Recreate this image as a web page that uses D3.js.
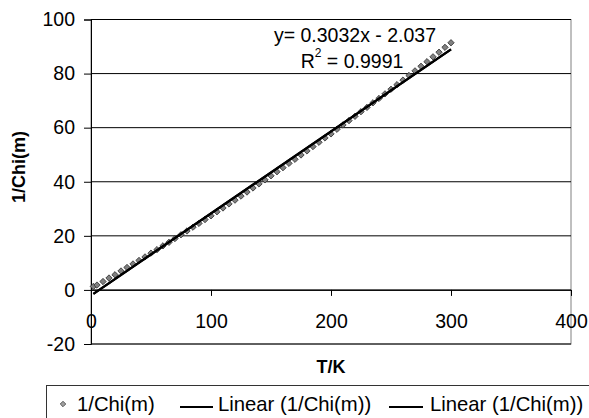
<!DOCTYPE html>
<html>
<head>
<meta charset="utf-8">
<script src="https://cdn.jsdelivr.net/npm/d3@7"></script>
<style>
  body { margin: 0; background: #fff; }
  svg { display: block; font-family: "Liberation Sans", Arial, sans-serif; }
</style>
</head>
<body>
<svg id="chart" width="589" height="418"></svg>
<script>
// temperature (K) and 1/Chi(m)
const temps = [2, 5, 10, 15, 20, 25, 30, 35, 40, 45, 50, 55, 60, 65, 70, 75, 80, 85, 90, 95,
	100, 105, 110, 115, 120, 125, 130, 135, 140, 145, 150, 155, 160, 165, 170, 175, 180, 185, 190, 195,
	200, 205, 210, 215, 220, 225, 230, 235, 240, 245, 250, 255, 260, 265, 270, 275, 280, 285, 290, 295, 300];
const invChi = [1.3, 1.8, 3.1, 4.4, 5.6, 7.0, 8.3, 9.6, 10.9, 12.2, 13.6, 14.9, 16.3, 17.6, 19.0, 20.4, 21.8, 23.2, 24.6, 26.0,
	27.4, 28.9, 30.3, 31.8, 33.2, 34.7, 36.2, 37.7, 39.2, 40.7, 42.2, 43.7, 45.2, 46.8, 48.3, 49.9, 51.4, 53.0, 54.6, 56.2,
	57.7, 59.4, 61.0, 62.6, 64.2, 65.9, 67.5, 69.2, 70.8, 72.5, 74.2, 75.9, 77.6, 79.3, 81.0, 82.7, 84.4, 86.2, 87.9, 89.7, 91.4];

// trendline from the chart label
const slope = 0.3032;
const intercept = -2.037;
const rSquared = '0.9991';

const xTicks = [0, 100, 200, 300, 400];
const yTicks = [-20, 0, 20, 40, 60, 80, 100];
const legendLabels = ['1/Chi(m)', 'Linear (1/Chi(m))', 'Linear (1/Chi(m))'];

const svg = d3.select('#chart');

const x = d3.scaleLinear().domain([0, 400]).range([91, 571]);
const y = d3.scaleLinear().domain([-20, 100]).range([344, 19.5]);

// plot area border
svg.append('rect')
	.attr('x', x(0)).attr('y', y(100))
	.attr('width', x(400) - x(0)).attr('height', y(-20) - y(100))
	.attr('fill', 'none').attr('stroke', '#808080');

// gridlines
svg.append('g').selectAll('line')
	.data(yTicks)
	.enter().append('line')
	.attr('x1', x(0)).attr('x2', x(400))
	.attr('y1', d => y(d)).attr('y2', d => y(d))
	.attr('stroke', '#000').attr('stroke-width', 1);

// y axis
let yAxis = svg.append('g')
	.attr('transform', `translate(${x(0)},0)`)
	.call(d3.axisLeft(y).tickValues(yTicks).tickFormat(d => String(d)).tickSize(7).tickPadding(9));
yAxis.select('.domain').attr('stroke', '#000');
yAxis.selectAll('text').attr('font-size', 19.5).attr('fill', '#000')
	.attr('font-family', '"Liberation Sans", Arial, sans-serif');

// x axis crossing at 0
let xAxis = svg.append('g')
	.attr('transform', `translate(0,${y(0)})`)
	.call(d3.axisBottom(x).tickValues(xTicks).tickFormat(d => String(d)).tickSize(6).tickSizeOuter(0).tickPadding(18));
xAxis.select('.domain').attr('stroke', '#000');
xAxis.selectAll('text').attr('font-size', 19.5).attr('fill', '#000')
	.attr('font-family', '"Liberation Sans", Arial, sans-serif');

// axis titles
svg.append('text')
	.attr('x', 331).attr('y', 367)
	.attr('text-anchor', 'middle').attr('dominant-baseline', 'central')
	.attr('font-size', 18).attr('font-weight', 'bold')
	.text('T/K');

svg.append('text')
	.attr('transform', 'translate(19,167) rotate(-90)')
	.attr('text-anchor', 'middle').attr('dominant-baseline', 'central')
	.attr('font-size', 18).attr('font-weight', 'bold')
	.text('1/Chi(m)');

// data markers
const diamond = d3.symbol().type(d3.symbolSquare).size(20);
svg.append('g').selectAll('path')
	.data(temps.map((t, i) => [t, invChi[i]]))
	.enter().append('path')
	.attr('d', diamond)
	.attr('transform', d => `translate(${x(d[0])},${y(d[1])}) rotate(45)`)
	.attr('fill', '#808080').attr('stroke', '#333').attr('stroke-width', 0.8);

// trendlines (two identical linear fits)
const fit = t => slope * t + intercept;
const tRange = d3.extent(temps);
for (let k = 0; k < 2; k++) {
	svg.append('line')
		.attr('x1', x(tRange[0])).attr('y1', y(fit(tRange[0])))
		.attr('x2', x(tRange[1])).attr('y2', y(fit(tRange[1])))
		.attr('stroke', '#000').attr('stroke-width', 2.2);
}

// trendline label
let eq = svg.append('text')
	.attr('x', 355).attr('y', 42)
	.attr('text-anchor', 'middle').attr('font-size', 19.5);
eq.text(`y= ${slope}x - ${Math.abs(intercept)}`);

let r2 = svg.append('text')
	.attr('x', 352).attr('y', 68)
	.attr('text-anchor', 'middle').attr('font-size', 19.5);
r2.append('tspan').text('R');
r2.append('tspan').attr('font-size', 12).attr('dy', -11).text('2');
r2.append('tspan').attr('dy', 11).text(` = ${rSquared}`);

// legend
let legend = svg.append('g');
legend.append('rect')
	.attr('x', 46.5).attr('y', 385.5)
	.attr('width', 600).attr('height', 60)
	.attr('fill', '#fff').attr('stroke', '#333');

legend.append('path')
	.attr('d', d3.symbol().type(d3.symbolSquare).size(15))
	.attr('transform', 'translate(63,404) rotate(45)')
	.attr('fill', '#a0a0a0').attr('stroke', '#444').attr('stroke-width', 0.8);

const legendTextX = [77, 218, 430];
const legendLineX = [null, [180, 213], [389, 423]];
legendLabels.forEach((label, i) => {
	if (legendLineX[i]) {
		legend.append('line')
			.attr('x1', legendLineX[i][0]).attr('x2', legendLineX[i][1])
			.attr('y1', 407).attr('y2', 407)
			.attr('stroke', '#000').attr('stroke-width', 2.2);
	}
	legend.append('text')
		.attr('x', legendTextX[i]).attr('y', 403.5)
		.attr('dominant-baseline', 'central')
		.attr('font-size', 20.3)
		.text(label);
});
</script>
</body>
</html>
